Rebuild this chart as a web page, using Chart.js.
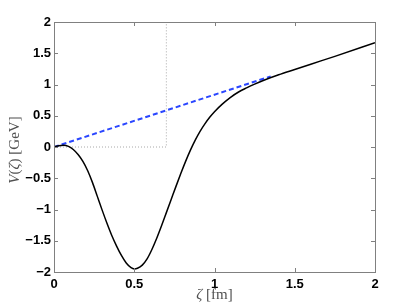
<!DOCTYPE html>
<html>
<head>
<meta charset="utf-8">
<script src="https://cdn.jsdelivr.net/npm/chart.js@4"></script>
<style>
  html, body { margin: 0; padding: 0; background: #fff; }
  canvas { display: block; }
</style>
</head>
<body>
<canvas id="c" width="415" height="307"></canvas>
<script>
// ---- data ----
const zeta = [0, 0.03, 0.06, 0.09, 0.12, 0.15, 0.18, 0.21, 0.24, 0.27, 0.30, 0.33, 0.36, 0.39, 0.42, 0.45, 0.48, 0.50, 0.52, 0.55, 0.58, 0.61, 0.64, 0.67, 0.70, 0.73, 0.76, 0.79, 0.82, 0.85, 0.88, 0.91, 0.94, 0.97, 1.00, 1.05, 1.10, 1.15, 1.20, 1.25, 1.30, 1.40, 1.50, 1.60, 1.75, 2.00];
const potential = [0, 0.02, 0.027, 0.01, -0.04, -0.12, -0.23, -0.38, -0.57, -0.79, -1.01, -1.22, -1.415, -1.585, -1.735, -1.855, -1.93, -1.95, -1.94, -1.89, -1.79, -1.64, -1.46, -1.26, -1.05, -0.84, -0.63, -0.425, -0.23, -0.05, 0.11, 0.25, 0.37, 0.475, 0.565, 0.69, 0.795, 0.88, 0.945, 1.005, 1.06, 1.155, 1.24, 1.325, 1.45, 1.67];
const linearZeta = [0, 1.35];
const linearV = [0, 1.13];
const stepZeta = [0, 0.7, 0.7];
const stepV = [0, 0, 2];
const xTickValues = [0, 0.5, 1, 1.5, 2];
const xTickLabels = ['0', '0.5', '1', '1.5', '2'];
const yTickValues = [-2, -1.5, -1, -0.5, 0, 0.5, 1, 1.5, 2];
const yTickLabels = ['\u22122', '\u22121.5', '\u22121', '\u22120.5', '0', '0.5', '1', '1.5', '2'];

const pts = (xs, ys) => xs.map((x, i) => ({ x: x, y: ys[i] }));

const boxPlugin = {
  id: 'box',
  afterDraw(chart) {
    const { ctx, chartArea: a, scales: { x, y } } = chart;
    ctx.save();
    ctx.strokeStyle = '#808080';
    ctx.lineWidth = 1;
    ctx.strokeRect(Math.round(a.left) + 0.5, Math.round(a.top) + 0.5, Math.round(a.right - a.left), Math.round(a.bottom - a.top));
    const L = 4;
    ctx.beginPath();
    xTickValues.forEach(v => {
      const px = Math.round(x.getPixelForValue(v)) + 0.5;
      ctx.moveTo(px, a.bottom); ctx.lineTo(px, a.bottom - L);
      ctx.moveTo(px, a.top); ctx.lineTo(px, a.top + L);
    });
    yTickValues.forEach(v => {
      const py = Math.round(y.getPixelForValue(v)) + 0.5;
      ctx.moveTo(a.left, py); ctx.lineTo(a.left + L, py);
      ctx.moveTo(a.right, py); ctx.lineTo(a.right - L, py);
    });
    ctx.stroke();

    // axis titles (mixed italic, LaTeX-like)
    const serif = '"Liberation Serif", "DejaVu Serif", serif';
    function drawParts(list, cx, cy) {
      let total = 0;
      list.forEach(p => { ctx.font = p[1] + ' 15px ' + serif; total += ctx.measureText(p[0]).width; });
      let xpos = cx - total / 2;
      list.forEach(p => {
        ctx.font = p[1] + ' 15px ' + serif;
        ctx.fillText(p[0], xpos, cy);
        xpos += ctx.measureText(p[0]).width;
      });
    }
    ctx.fillStyle = '#505050';
    ctx.textBaseline = 'middle';
    ctx.textAlign = 'left';
    drawParts([['\u03B6', 'italic'], [' [fm]', 'normal']], (a.left + a.right) / 2, 295);
    ctx.save();
    ctx.translate(15, (a.top + a.bottom) / 2 + 3);
    ctx.rotate(-Math.PI / 2);
    drawParts([['V', 'italic'], ['(', 'normal'], ['\u03B6', 'italic'], [') [GeV]', 'normal']], 0, 0);
    ctx.restore();
    ctx.restore();
  }
};

const tickFont = { family: '"Liberation Sans", Arial, Helvetica, sans-serif', size: 13, weight: 'bold' };

new Chart(document.getElementById('c'), {
  type: 'scatter',
  data: {
    datasets: [
      { data: pts(zeta, potential), showLine: true, borderColor: '#000000', borderWidth: 1.5, pointRadius: 0, cubicInterpolationMode: 'monotone' },
      { data: pts(linearZeta, linearV), showLine: true, borderColor: '#2a46ff', borderWidth: 2, borderDash: [5, 3], pointRadius: 0 },
      { data: pts(stepZeta, stepV), showLine: true, borderColor: '#a8a8a8', borderWidth: 1, borderDash: [1, 2], pointRadius: 0 }
    ]
  },
  options: {
    responsive: false,
    animation: false,
    devicePixelRatio: 1,
    layout: { padding: { left: 0, top: 22, right: 40, bottom: 0 } },
    plugins: { legend: { display: false }, tooltip: { enabled: false } },
    scales: {
      x: {
        type: 'linear', min: 0, max: 2,
        grid: { display: false, drawTicks: false },
        border: { display: false },
        afterBuildTicks(s) { s.ticks = xTickValues.map(v => ({ value: v })); },
        ticks: { color: '#000', font: tickFont, padding: 5, maxRotation: 0, autoSkip: false,
                 callback: (v) => xTickLabels[xTickValues.indexOf(v)] },
        afterFit(s) { s.height = 35; }
      },
      y: {
        type: 'linear', min: -2, max: 2,
        grid: { display: false, drawTicks: false },
        border: { display: false },
        afterBuildTicks(s) { s.ticks = yTickValues.map(v => ({ value: v })); },
        ticks: { color: '#000', font: tickFont, padding: 3, autoSkip: false,
                 callback: (v) => yTickLabels[yTickValues.indexOf(v)] },
        afterFit(s) { s.width = 54; }
      }
    }
  },
  plugins: [boxPlugin]
});
</script>
</body>
</html>
